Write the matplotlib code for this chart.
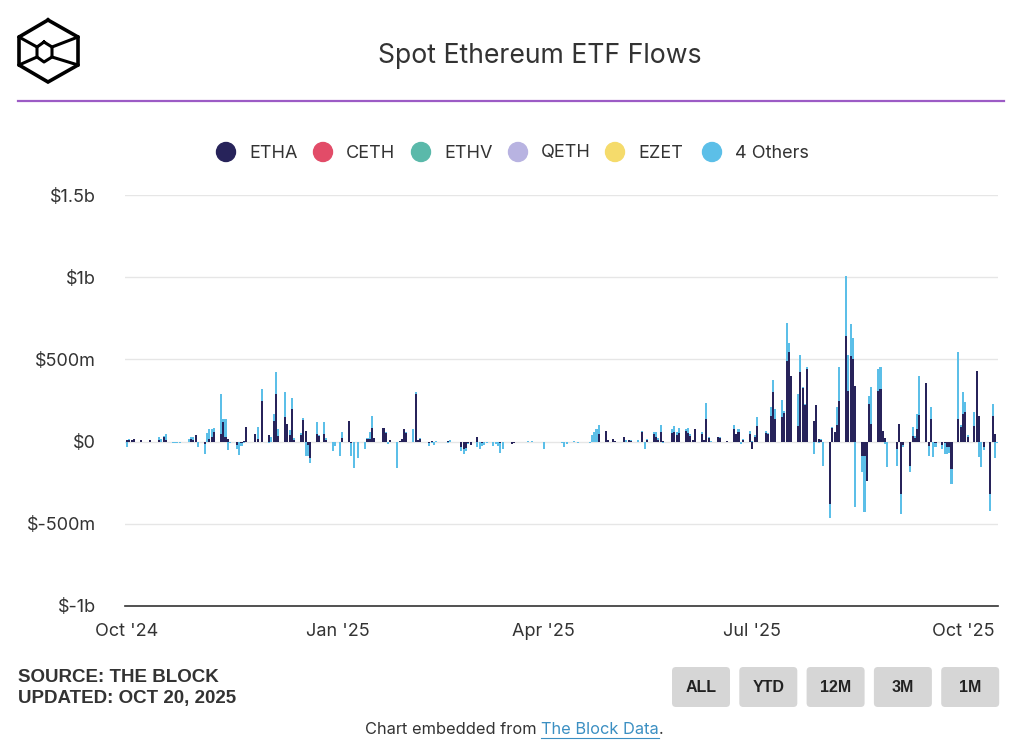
import pandas as pd
import matplotlib
matplotlib.use('Agg')
import matplotlib.pyplot as plt
import matplotlib.patches as patches

plt.rcParams['font.family'] = ['Inter', 'DejaVu Sans']

# US market holidays in the period (no ETF flows)
holidays = ['2024-11-28', '2024-12-25', '2025-01-01', '2025-01-09', '2025-01-20',
            '2025-02-17', '2025-04-18', '2025-05-26', '2025-06-19', '2025-07-04',
            '2025-09-01']

# daily net flows, $m  (one line per month, Oct 2024 .. Oct 2025)
etha = [
    10, 8, 12, 15, 10, 0, 0, 0, 10, 0, 10, 0, 25, 10, 0, 0, 0, 0, 0, 0, 15, 10, 40,
    0, -15, 0, 15, 25, 60, 45, 120, 30, 15, 0, -20, 0, -10, 5, 87, 0, 47, 15, 250,
    40, 0, 125, 290, 36, 148, 105, 40, 200, 10, 40, 134, 63, -20, -102, 45, 35, 45, 10, 0, 0,
    0, 20, 128, -10, 0, 0, 0, 16, 15, 80, 20, 80, 55, -5, 10, 0, 5, 15, 77, 55,
    0, 290, 12, 15, -5, -10, 5, 0, 0, 0, 5, 0, 0, 0, -35, -45, -40, -10, -20,
    30, 0, -10, 0, 0, 0, 0, 0, -10, 0, 0, -15, -10, 0, -5, 0, 0, 0, 0, 0, 0,
    0, 0, 0, 0, 0, 0, 0, 0, 0, 0, 0, 0, 0, 0, 0, 0, 0, 47, 67, 10, 0,
    16, 5, 0, 26, 0, 10, 5, 0, 0, 57, 0, 10, 47, 30, 10, 57, 5, 50, 57, 40, 55,
    67, 55, 35, 10, 77, 47, 10, 138, 20, 0, 26, 20, 0, 5, 77, 47, 60, 0, 10, 47,
    -45, 30, 97, 50, 45, 158, 300, 138, 148, 175, 489, 544, 398, 97, 426, 325, 223, 442, 128, 223, 16, 12,
    0, -380, 80, 57, 100, 244, 645, 310, 520, 503, 337, -85, -90, -240, 230, 107, 310, 320, 67, 20, 0,
    -42, 107, -318, -20, -150, 37, 20, 77, 162, 357, -24, 138, 0, -10, -20, -10, -30, -30, -166, 138, 87,
    168, 179, 30, 97, 432, 158, 0, -30, -319, 154, 47, 0,
]
others = [
    -30, 5, -5, 0, 0, 0, -3, 0, 0, 0, 15, 15, 10, 38, -10, -8, -10, -8, -5, 15, 10, 15, 0,
    -30, -60, 50, 60, 50, 20, 245, 15, 110, -50, -10, -25, -80, -15, -10, 0, 0, 0, 72, 70,
    -10, 30, 45, 133, 40, 152, 0, 30, 65, 10, 10, 10, -85, -70, -28, 75, 5, 72, 10, -60, -28,
    -85, 37, 0, -75, -162, -100, -45, 5, 42, 78, 0, 0, 5, -10, 0, -162, 0, 0, 0, 5,
    77, 10, 0, 5, 0, -15, -10, -20, 5, 0, -10, 10, -5, 0, -20, -30, -20, -5, 0,
    -35, -45, -15, -20, -10, -25, -15, -25, -60, -45, -5, 0, 0, -5, 0, 0, 3, -3, 2, -5, 0,
    -45, -5, -5, 0, -5, -3, -10, -35, -15, 5, -5, -10, -3, -10, 38, 57, 77, 54, 0, 0, -5,
    0, 0, -5, 0, 10, -5, 5, 10, 0, 10, -45, 5, 14, 31, 10, 44, -10, 25, 40, 20, 25,
    10, 25, 10, 0, 0, 10, 0, 97, 5, 5, 0, 5, -5, 0, 24, 0, 17, -14, 5, 20,
    5, 10, 51, 12, 5, 51, 76, 61, 108, 14, 231, 56, 4, 193, 102, 5, 5, 10, -75, 0, -10, 5,
    -146, -87, 7, 0, 109, 209, 362, 214, 197, 126, -400, -102, -336, 0, 50, 224, 132, 133, 0, -15, -156,
    -104, 0, -122, -15, -37, 50, 15, 91, 240, 0, -61, 71, -95, -20, -25, -65, -45, -40, -92, 406, 15,
    132, 61, 10, 82, 0, -95, -156, -20, -101, 75, -101, -10,
]

series_names = ['ETHA', 'CETH', 'ETHV', 'QETH', 'EZET', '4 Others']
series_colors = ['#27235a', '#e24c68', '#5ab9aa', '#b8b3e1', '#f5db6b', '#5cbfe8']

y_ticks = [-1000, -500, 0, 500, 1000, 1500]
y_labels = ['\\$-1b', '\\$-500m', '\\$0', '\\$500m', '\\$1b', '\\$1.5b']
x_ticks = ['2024-10-01', '2025-01-01', '2025-04-01', '2025-07-01', '2025-10-01']
x_labels = ["Oct '24", "Jan '25", "Apr '25", "Jul '25", "Oct '25"]
buttons = ['ALL', 'YTD', '12M', '3M', '1M']

days = pd.bdate_range('2024-10-01', '2025-10-16')
days = days[~days.isin(pd.to_datetime(holidays))]
df = pd.DataFrame({'etha': etha, 'others': others}, index=days)

fig = plt.figure(figsize=(10.24, 7.45), dpi=100)
fig.patch.set_facecolor('white')

ax = fig.add_axes([125 / 1024, 1 - 606 / 745, 873 / 1024, 411 / 745])
navy = series_colors[0]
light = series_colors[5]
w = 0.9
pos_e = df['etha'].clip(lower=0)
neg_e = df['etha'].clip(upper=0)
ax.bar(df.index, pos_e, width=w, color=navy, linewidth=0, zorder=3)
ax.bar(df.index, df['others'].clip(lower=0), bottom=pos_e, width=w, color=light, linewidth=0, zorder=3)
ax.bar(df.index, neg_e, width=w, color=navy, linewidth=0, zorder=3)
ax.bar(df.index, df['others'].clip(upper=0), bottom=neg_e, width=w, color=light, linewidth=0, zorder=3)

start = pd.Timestamp('2024-10-01')
ax.set_xlim(start - pd.Timedelta(days=0.87), start + pd.Timedelta(days=380.3))
ax.set_ylim(-1000, 1500)
ax.set_yticks(y_ticks)
ax.set_yticklabels(y_labels)
ax.set_xticks(pd.to_datetime(x_ticks))
ax.set_xticklabels(x_labels)
ax.tick_params(axis='both', length=0, labelsize=13, colors='#333333')
ax.tick_params(axis='y', pad=21)
ax.tick_params(axis='x', pad=12)
for y in y_ticks[1:]:
    ax.axhline(y, color='#e6e6e6', lw=1, zorder=1)
for s in ['top', 'right', 'left']:
    ax.spines[s].set_visible(False)
ax.spines['bottom'].set_color('#333333')
ax.spines['bottom'].set_linewidth(1.2)

# overlay in pixel coordinates for header, legend and footer
ov = fig.add_axes([0, 0, 1, 1], facecolor='none')
ov.set_xlim(0, 1024)
ov.set_ylim(745, 0)
ov.axis('off')

# logo
outer = [(48, 20), (78, 37), (78, 65), (48, 82), (19, 65), (19, 37), (48, 20)]
inner = [(44, 42), (52, 47), (52, 57), (44, 62), (37, 57), (37, 47), (44, 42)]
ov.plot([p[0] for p in outer], [p[1] for p in outer], color='black', lw=2.6, solid_joinstyle='miter')
ov.plot([p[0] for p in inner], [p[1] for p in inner], color='black', lw=2.2)
for a, b in [((19, 37), (37, 47)), ((78, 37), (52, 47)), ((19, 65), (37, 57)), ((78, 65), (52, 57))]:
    ov.plot([a[0], b[0]], [a[1], b[1]], color='black', lw=2.2)

ov.text(540, 56, 'Spot Ethereum ETF Flows', ha='center', va='center', fontsize=19.2, color='#333333')
ov.plot([18, 1004], [101, 101], color='#9c5bc5', lw=1.6)

# legend
leg_x = [226, 323, 421, 518, 615, 712]
for x, name, c in zip(leg_x, series_names, series_colors):
    ov.add_patch(patches.Circle((x, 152), 9.5, color=c))
    ov.text(x + 23, 153, name, ha='left', va='center', fontsize=13, color='#333333')

# footer
foot_font = ['Liberation Sans Narrow', 'Liberation Sans', 'DejaVu Sans']
ov.text(18, 677, 'SOURCE: THE BLOCK', ha='left', va='center', fontsize=13.5,
        fontweight='bold', color='#333333', family=foot_font)
ov.text(18, 698, 'UPDATED: OCT 20, 2025', ha='left', va='center', fontsize=13.5,
        fontweight='bold', color='#333333', family=foot_font)
for i, b in enumerate(buttons):
    x0 = 672 + i * 67.3
    ov.add_patch(patches.FancyBboxPatch((x0, 667), 58, 40, boxstyle='round,pad=0,rounding_size=4',
                                        facecolor='#d6d6d6', edgecolor='none'))
    ov.text(x0 + 29, 688, b, ha='center', va='center', fontsize=11.5, fontweight='bold',
            color='#222222', family=foot_font)

# "Chart embedded from The Block Data." laid out piece by piece
fig.canvas.draw()
renderer = fig.canvas.get_renderer()
parts = [('Chart embedded from\u00a0', '#333333'), ('The Block Data', '#3b8fc2'), ('.', '#333333')]
x_px = 365.0
for txt, col in parts:
    t = ov.text(x_px, 729, txt, ha='left', va='center', fontsize=11.8, color=col)
    bb = t.get_window_extent(renderer)
    wpx = bb.width
    if col == '#3b8fc2':
        ov.plot([x_px, x_px + wpx], [737.5, 737.5], color=col, lw=0.8)
    x_px += wpx

fig.savefig('out.png', dpi=100)
